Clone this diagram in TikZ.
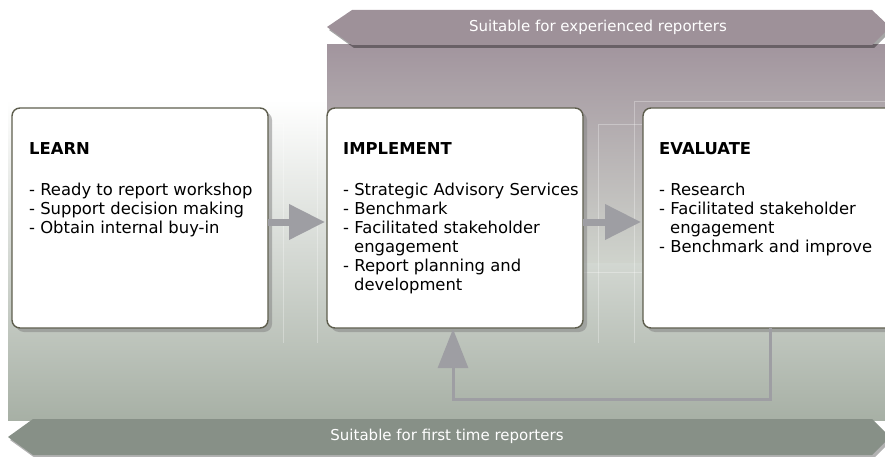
\documentclass[tikz,border=0pt]{standalone}
\usepackage{fontspec}
\setmainfont{DejaVu Sans}
\usetikzlibrary{positioning,calc,arrows.meta,shadows}

\definecolor{mauve}{HTML}{A2959E}
\definecolor{mauvebanner}{HTML}{9E9199}
\definecolor{sage}{HTML}{CFD3CC}
\definecolor{sagedark}{HTML}{A7B0A5}
\definecolor{sagebanner}{HTML}{879087}
\definecolor{boxline}{HTML}{5E5E4E}
\definecolor{flowgrey}{HTML}{9E9EA3}

\newcommand{\wrapin}{\hspace*{11pt}}

\begin{document}
\begin{tikzpicture}[x=1pt, y=-1pt, node distance=59pt,
    every node/.style={font=\fontsize{16.4}{19}\selectfont},
    stage/.style={draw=boxline, line width=1.4pt, fill=white, rounded corners=8pt,
      minimum width=256pt, minimum height=220pt, inner sep=0pt, outer sep=0pt,
      drop shadow={shadow xshift=4pt, shadow yshift=-4pt, opacity=0.5}},
    stagetext/.style={anchor=north west, align=left, inner sep=0pt},
    flow/.style={draw=flowgrey, line width=7pt, -{Triangle[length=36pt,width=34pt]}, shorten >=2pt},
    loopback/.style={draw=flowgrey, line width=3pt, -{Triangle[length=39pt,width=30pt]}, shorten >=1pt},
    bannertext/.style={text=white, font=\fontsize{15}{18}\selectfont},
    ghost/.style={draw=white, opacity=0.3, line width=0.6pt}]
    \useasboundingbox (0,0) rectangle (885,457);
    \clip (0,0) rectangle (885,457);
    % background
    \shade[top color=white, middle color=sage, bottom color=sagedark] (8,100) rectangle (885,420);
    \shade[top color=mauve, bottom color=sage] (327,45) rectangle (885,262);
    \draw[ghost] (268,123) -- (283,123) -- (283,343);
    \draw[ghost] (317,100) -- (317,343);
    \draw[ghost] (642,124) -- (598,124) -- (598,343);
    \draw[ghost] (885,101) -- (634,101) -- (634,343);
    \draw[ghost] (583,272) -- (642,272);
    % banners
    \fill[black, opacity=0.35] (329,30) -- (354,13) -- (874,13) -- (892,30) -- (874,48) -- (354,48) -- cycle;
    \fill[mauvebanner] (327,27) -- (352,10) -- (872,10) -- (890,27) -- (872,45) -- (352,45) -- cycle;
    \node[bannertext] (expert) at (598,27) {Suitable for experienced reporters};
    \fill[black, opacity=0.3] (10,440) -- (35,422) -- (874,422) -- (892,440) -- (874,458) -- (35,458) -- cycle;
    \fill[sagebanner] (8,437) -- (33,419) -- (872,419) -- (890,437) -- (872,455) -- (33,455) -- cycle;
    \node[bannertext] (novice) at (447,436) {Suitable for first time reporters};
    % stages
    \node[stage, anchor=north west] (learn) at (12,108) {};
    \node[stage, right=of learn] (implement) {};
    \node[stage, right=60pt of implement] (evaluate) {};
    \node[stagetext] (learntext) at ([xshift=17pt, yshift=-34pt]learn.north west)
      {\textbf{LEARN}\\[22pt]- Ready to report workshop\\- Support decision making\\- Obtain internal buy-in};
    \node[stagetext] (implementtext) at ([xshift=16pt, yshift=-34pt]implement.north west)
      {\textbf{IMPLEMENT}\\[22pt]- Strategic Advisory Services\\- Benchmark\\- Facilitated stakeholder\\\wrapin engagement\\- Report planning and\\\wrapin development};
    \node[stagetext] (evaluatetext) at ([xshift=16pt, yshift=-34pt]evaluate.north west)
      {\textbf{EVALUATE}\\[22pt]- Research\\- Facilitated stakeholder\\\wrapin engagement\\- Benchmark and improve};
    % arrows
    \draw[flow] ([yshift=-4pt]learn.east) -- ([yshift=-4pt]implement.west);
    \draw[flow] ([yshift=-4pt]implement.east) -- ([yshift=-4pt]evaluate.west);
    \draw[loopback] ([xshift=127pt]evaluate.south west) -- ++(0,71) -| ([xshift=126pt]implement.south west);
  \end{tikzpicture}
\end{document}
